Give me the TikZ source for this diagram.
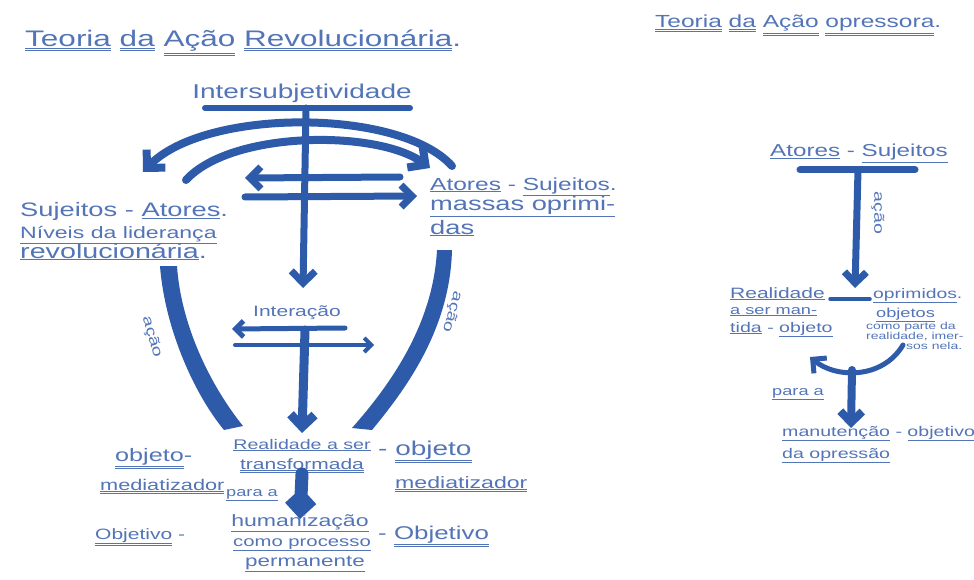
\documentclass[tikz,border=0pt]{standalone}
\usepackage{fontspec}
\setmainfont{Liberation Sans}
\newfontfamily\hand[FakeStretch=1.4]{Liberation Sans}
\usetikzlibrary{arrows.meta}
\definecolor{ink}{HTML}{5375B8}
\definecolor{pen}{HTML}{2D5BAA}
\newcommand{\uu}[1]{\underline{\underline{#1}}}
\begin{document}
\begin{tikzpicture}[x=1pt,y=-1pt,
  txt/.style={text=ink, inner sep=0pt, font=\hand\fontsize{#1}{#1}\selectfont},
  stroke/.style={draw=pen, line width=#1, line cap=round},
  barb/.style={-{Straight Barb[length=#1,width=2*#1]}},
  band/.style={fill=pen}
]
\useasboundingbox (0,0) rectangle (974,580);
\fill[white] (0,0) rectangle (974,580);

% ---------------- titles
\node[txt=22.5, anchor=base west] (ltitle) at (25,47) {\uu{Teoria} \uu{da} \uu{Ação} \uu{Revolucionária}.};
\node[txt=17.5, anchor=base west] (rtitle) at (655,28) {\uu{Teoria} \uu{da} \uu{Ação} \uu{opressora}.};

% ---------------- left diagram
\node[txt=20, anchor=base] (inter) at (302,99) {Intersubjetividade};
\coordinate (barL) at (205,108);
\coordinate (barR) at (410,108);
\coordinate (barM) at (306,108);
\draw[stroke=6pt] (barL) -- (barR);
\coordinate (stemEnd) at (303,288);
\draw[stroke=7pt, barb=12pt] (barM) -- (stemEnd);

% arcs
\coordinate (oaR) at (452,166);
\coordinate (oaL) at (143,172);
\draw[stroke=8pt, barb=13pt] (oaR) .. controls (400,108) and (205,108) .. (oaL);
\coordinate (iaL) at (186,180);
\coordinate (iaR) at (430,168);
\draw[stroke=8pt, barb=13pt] (iaL) .. controls (232,130) and (378,130) .. (iaR);

% horizontal arrows
\coordinate (h1R) at (400,177);
\coordinate (h1L) at (245,178);
\draw[stroke=7pt, barb=11pt] (h1R) -- (h1L);
\coordinate (h2L) at (245,197);
\coordinate (h2R) at (417,196);
\draw[stroke=7pt, barb=11pt] (h2L) -- (h2R);

% left texts
\node[txt=19.5, anchor=base west] (l1) at (20,217) {Sujeitos - \underline{Atores}.};
\node[txt=16.5, anchor=base west] (l2) at (20,238) {\underline{Níveis da liderança}};
\node[txt=20.5, anchor=base west] (l3) at (20,258) {\underline{revolucionária}.};

% right texts
\node[txt=17.5, anchor=base west] (r1) at (430,190) {\underline{Atores} - \underline{Sujeitos}.};
\node[txt=19.5, anchor=base west] (r2) at (430,211) {\underline{massas oprimi-}};
\node[txt=19.5, anchor=base west] (r3) at (430,234) {\underline{das}};

% bands (ação)
\coordinate (lbT1) at (160,266);
\coordinate (lbT2) at (177,266);
\coordinate (lbB1) at (224,430);
\coordinate (lbB2) at (243,426);
\fill[band] (lbT1) .. controls (165,330) and (195,395) .. (lbB1) -- (lbB2) .. controls (210,385) and (181,325) .. (lbT2) -- cycle;
\coordinate (rbT1) at (452,250);
\coordinate (rbT2) at (437,250);
\coordinate (rbB1) at (372,430);
\coordinate (rbB2) at (352,428);
\fill[band] (rbT1) .. controls (450,330) and (405,390) .. (rbB1) -- (rbB2) .. controls (390,385) and (433,325) .. (rbT2) -- cycle;
\node[txt=14, rotate=-74] (acL) at (152,337) {ação};
\node[txt=14, rotate=-106] (acR) at (452,312) {ação};

% interação
\node[txt=15, anchor=base] (intera) at (297,316) {Interação};
\coordinate (i1R) at (345,328);
\coordinate (i1L) at (232,329);
\draw[stroke=5pt, barb=8pt] (i1R) -- (i1L);
\coordinate (i2L) at (235,345);
\coordinate (i2R) at (374,345);
\draw[stroke=4pt, barb=7pt] (i2L) -- (i2R);
\coordinate (i3T) at (305,330);
\coordinate (i3B) at (302,433);
\draw[stroke=9pt, barb=12pt] (i3T) -- (i3B);

% realidade
\node[txt=14, anchor=base] (real1) at (302,449) {\underline{Realidade a ser}};
\node[txt=15, anchor=base] (real2) at (302,469) {\uu{transformada}};
\node[txt=18, anchor=base west] (lo1) at (115,461) {\uu{objeto}-};
\node[txt=15.5, anchor=base west] (lo2) at (100,490) {\uu{mediatizador}};
\node[txt=20, anchor=base west] (ro1) at (378,455) {- \uu{objeto}};
\node[txt=16.5, anchor=base west] (ro2) at (395,488) {\uu{mediatizador}};
\node[txt=13, anchor=base west] (para) at (226,496) {\underline{para a}};
\coordinate (pT) at (302,474);
\coordinate (pB) at (300,519);
\draw[stroke=13pt, barb=11pt] (pT) -- (pB);

% humanização
\node[txt=16.5, anchor=base] (hu1) at (300,526) {\underline{humanização}};
\node[txt=14.5, anchor=base] (hu2) at (302,546) {\underline{como processo}};
\node[txt=16, anchor=base] (hu3) at (305,566) {\underline{permanente}};
\node[txt=15, anchor=base west] (lob) at (95,539) {\uu{Objetivo} -};
\node[txt=18.5, anchor=base west] (rob) at (378,539) {- \uu{Objetivo}};

% ---------------- right diagram
\node[txt=17.3, anchor=base] (as) at (859,157) {\underline{Atores} - \underline{Sujeitos}};
\coordinate (rbarL) at (800,170);
\coordinate (rbarR) at (915,170);
\coordinate (rbarM) at (858,170);
\draw[stroke=7pt] (rbarL) -- (rbarR);
\coordinate (rstemB) at (855,288);
\draw[stroke=7pt, barb=11pt] (rbarM) -- (rstemB);
\node[txt=14, rotate=-90] (acr) at (878,213) {ação};

\node[txt=15, anchor=base west] (rm1) at (730,298) {\underline{Realidade}};
\node[txt=13, anchor=base west] (rm2) at (730,314) {\underline{a ser man-}};
\node[txt=14, anchor=base west] (rm3) at (730,332) {\underline{tida} - \underline{objeto}};
\coordinate (dashL) at (830,299);
\coordinate (dashR) at (870,299);
\draw[stroke=3.5pt] (dashL) -- (dashR);
\node[txt=13.8, anchor=base west] (op1) at (873,298) {\underline{oprimidos}.};
\node[txt=13, anchor=base west] (op2) at (876,317) {\underline{objetos}};
\node[txt=10, anchor=base west] (cp1) at (866,329) {como parte da};
\node[txt=10, anchor=base west] (cp2) at (866,339) {realidade, imer-};
\node[txt=10, anchor=base west] (cp3) at (906,349) {sos nela.};

\coordinate (cvR) at (903,345);
\coordinate (cvL) at (810,357);
\draw[stroke=5pt, barb=10pt] (cvR) .. controls (882,380) and (835,378) .. (cvL);

\node[txt=13, anchor=base west] (rpara) at (772,395) {\underline{para a}};
\coordinate (rsT) at (852,370);
\coordinate (rsB) at (851,428);
\draw[stroke=8pt, barb=11pt] (rsT) -- (rsB);

\node[txt=14, anchor=base west] (man1) at (782,436) {\underline{manutenção} - \underline{objetivo}};
\node[txt=14, anchor=base west] (man2) at (782,458) {\underline{da opressão}};
\end{tikzpicture}
\end{document}
